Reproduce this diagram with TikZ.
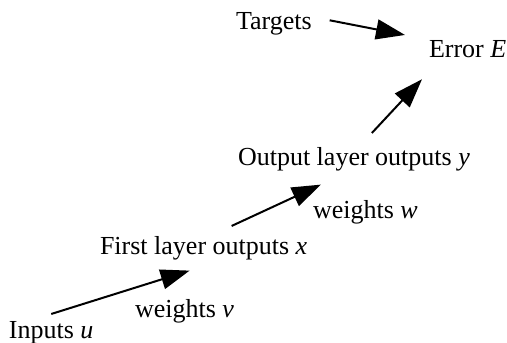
\documentclass[tikz,border=0pt]{standalone}
\usepackage{fontspec}
\setmainfont{Liberation Serif}
\usetikzlibrary{arrows.meta}
\begin{document}
\begin{tikzpicture}[x=0.5pt,y=-0.5pt,line width=1pt,>={Triangle[length=14.5pt,width=10pt]},every node/.style={inner sep=3pt,anchor=base west,font=\fontsize{13}{15}\selectfont}]
  \useasboundingbox (0,0) rectangle (507,342);
  \node (inputs) at (2,338) {Inputs \textit{u}};
  \node (wv) at (128,317) {weights \textit{v}};
  \node (first) at (93,254) {First layer outputs \textit{x}};
  \node (ww) at (306,218) {weights \textit{w}};
  \node (output) at (231,165) {Output layer outputs \textit{y}};
  \node (targets) at (229,30) {Targets};
  \node (error) at (422,58) {Error \textit{E}};

  \draw[->](inputs.north)--([xshift=-7pt,yshift=-2pt]first.south);
  \draw[->]([xshift=14pt,yshift=1.5pt]first.north)--([xshift=-16.5pt,yshift=-3.5pt]output.south);
  \draw[->]([xshift=9pt,yshift=3.5pt]output.north)--([yshift=-7pt]error.south west);
  \draw[->]([xshift=5.5pt,yshift=2pt]targets.east)--([xshift=-8.5pt,yshift=-0.5pt]error.north west);
\end{tikzpicture}
\end{document}
